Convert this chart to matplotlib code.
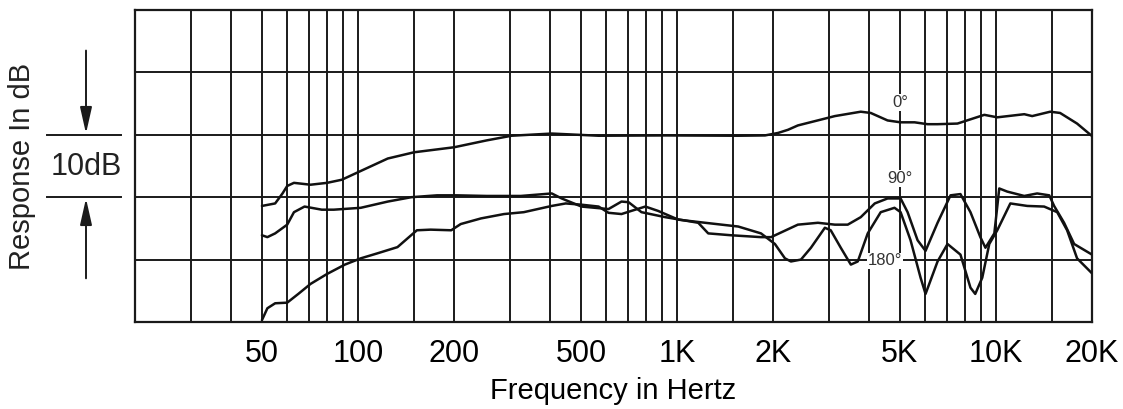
import matplotlib
matplotlib.use("Agg")
import matplotlib.pyplot as plt
import matplotlib.transforms as mtransforms

plt.rcParams['font.family'] = ['Liberation Sans', 'DejaVu Sans']

# polar response curves (Hz, dB)
freq_0 = [50, 55, 58, 60, 63, 71, 80, 89, 102, 124,
          150, 200, 253, 303, 405, 568, 919, 1556, 1888, 2075,
          2228, 2393, 3126, 3768, 4050, 4573, 5024, 5558, 6102, 6560,
          7572, 9194, 10094, 12264, 12988, 14792, 15886, 17958, 20000]
db_0 = [-11.4, -11.0, -9.4, -8.2, -7.7, -8.0, -7.7, -7.2, -5.8, -3.8,
        -2.8, -2.0, -0.9, -0.15, 0.2, -0.15, -0.1, -0.15, -0.1, 0.3,
        0.8, 1.5, 3.0, 3.7, 3.5, 2.3, 2.0, 2.0, 1.7, 1.7,
        1.8, 3.2, 2.8, 3.3, 3.0, 3.7, 3.5, 1.8, -0.2]

freq_90 = [50, 52, 55, 60, 63, 68, 77, 84, 102, 124,
           147, 177, 204, 253, 324, 405, 435, 502, 610, 670,
           705, 774, 919, 1166, 1253, 1479, 1834, 1972, 2393, 2766,
           3126, 3430, 3768, 4169, 4573, 5024, 5284, 5679, 6015, 6560,
           7204, 7738, 8318, 8934, 9268, 9882, 10240, 10846, 12264, 13460,
           14690, 15216, 16350, 17580, 20000]
db_90 = [-16.1, -16.4, -15.8, -14.4, -12.4, -11.5, -12.0, -12.0, -11.7, -10.7,
         -10.0, -9.7, -9.7, -9.8, -9.8, -9.4, -10.2, -11.5, -11.9, -10.7,
         -10.8, -12.4, -13.2, -14.1, -15.8, -16.1, -16.4, -16.4, -14.4, -14.1,
         -14.4, -14.4, -13.2, -11.0, -10.2, -10.2, -12.4, -16.9, -18.6, -14.1,
         -9.7, -9.5, -12.4, -16.4, -18.1, -15.8, -8.6, -9.1, -9.8, -9.4,
         -9.7, -11.4, -14.1, -17.5, -19.2]

freq_180 = [50, 52, 55, 60, 65, 71, 80, 91, 102, 115,
            133, 143, 153, 169, 196, 210, 243, 287, 331, 405,
            448, 502, 568, 610, 670, 719, 796, 873, 1010, 1226,
            1556, 1834, 2028, 2180, 2276, 2447, 2630, 2908, 3034, 3262,
            3508, 3688, 3963, 4352, 4808, 5024, 5398, 5803, 6015, 6560,
            7048, 7738, 8318, 8610, 9058, 9528, 10094, 11092, 12532, 14158,
            15560, 16712, 17958, 20000]
db_180 = [-29.7, -27.8, -27.0, -26.9, -25.5, -23.9, -22.3, -20.8, -19.8, -19.0,
          -18.0, -16.6, -15.3, -15.2, -15.3, -14.3, -13.4, -12.7, -12.4, -11.4,
          -11.0, -11.2, -11.5, -12.5, -12.7, -12.2, -11.5, -12.2, -13.6, -14.1,
          -14.7, -15.8, -17.5, -19.8, -20.3, -20.0, -18.1, -14.9, -15.3, -18.1,
          -20.8, -20.3, -15.8, -12.4, -11.7, -12.4, -16.9, -22.9, -25.5, -20.3,
          -17.5, -19.2, -24.5, -25.5, -22.9, -17.5, -15.3, -11.0, -11.4, -11.5,
          -12.4, -15.3, -19.8, -22.2]

grid_freqs = [30, 40, 50, 60, 70, 80, 90, 100, 150, 200, 300, 400, 500, 600, 700,
              800, 900, 1000, 1500, 2000, 3000, 4000, 5000, 6000, 7000, 8000,
              9000, 10000, 15000]
grid_db = [10, 0, -10, -20]
tick_freqs = [50, 100, 200, 500, 1000, 2000, 5000, 10000, 20000]
tick_labels = ['50', '100', '200', '500', '1K', '2K', '5K', '10K', '20K']

fig = plt.figure(figsize=(11.23, 4.09), dpi=100)
ax = fig.add_axes([135 / 1123, 1 - 322 / 409, 957 / 1123, 312 / 409])
ax.set_xscale('log')
ax.set_xlim(20, 20000)
ax.set_ylim(-30, 20)

gc = '#1a1a1a'
for f in grid_freqs:
    ax.axvline(f, color=gc, lw=1.4, zorder=1)
for d in grid_db:
    ax.axhline(d, color=gc, lw=1.4, zorder=1)
for s in ax.spines.values():
    s.set_linewidth(1.6)
    s.set_color(gc)

for fr, db in [(freq_0, db_0), (freq_90, db_90), (freq_180, db_180)]:
    ax.plot(fr, db, color='#111111', lw=1.8, solid_joinstyle='round',
            solid_capstyle='round', zorder=4)

lab = dict(fontsize=12, color='#333333', ha='center', va='center', zorder=3,
           bbox=dict(facecolor='white', edgecolor='none', pad=0.6))
ax.text(5000, 5.2, '0°', **lab)
ax.text(5000, -7.0, '90°', **lab)
ax.text(4500, -20.2, '180°', **lab)

ax.set_xticks(tick_freqs)
ax.set_xticklabels(tick_labels)
ax.xaxis.set_minor_locator(matplotlib.ticker.NullLocator())
ax.set_yticks([])
ax.tick_params(axis='x', length=0, pad=12, labelsize=22)
ax.set_xlabel('Frequency in Hertz', fontsize=21, labelpad=6)

# 10 dB scale marker left of the chart
tr = mtransforms.blended_transform_factory(ax.transAxes, ax.transData)
for d in [0, -10]:
    ax.plot([-0.092, -0.0146], [d, d], color=gc, lw=1.4, transform=tr, clip_on=False)
ax_x = -0.0512
arrow = dict(arrowstyle='-|>,head_length=0.8,head_width=0.18', color=gc, lw=1.4,
             shrinkA=0, shrinkB=0, mutation_scale=20)
ax.annotate('', xy=(ax_x, 0.2), xytext=(ax_x, 13.5), xycoords=tr, textcoords=tr,
            arrowprops=arrow, annotation_clip=False)
ax.annotate('', xy=(ax_x, -10.2), xytext=(ax_x, -23.0), xycoords=tr, textcoords=tr,
            arrowprops=arrow, annotation_clip=False)
ax.text(ax_x, -5.2, '10dB', transform=tr, fontsize=22, ha='center', va='center',
        color='#222222')
fig.text(22 / 1123, 1 - 166 / 409, 'Response In dB', rotation=90, fontsize=21,
         ha='center', va='center', color='#222222')

fig.savefig('out.png', dpi=100)
